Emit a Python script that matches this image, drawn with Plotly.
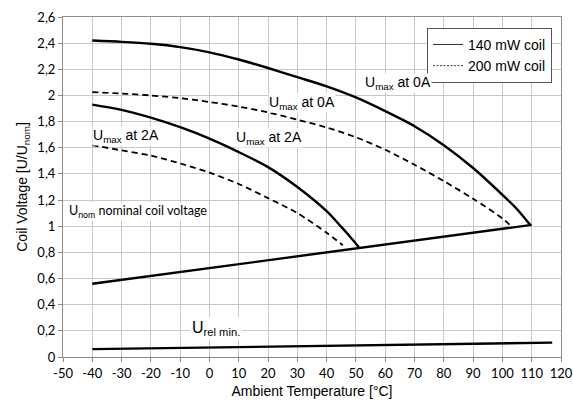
import plotly.graph_objects as go

# --- data ---
t_0a_140 = [-40, -30, -20, -10, 0, 10, 20, 30, 40, 50, 60, 70, 80, 90, 100, 105, 109.5]
u_0a_140 = [2.42, 2.41, 2.395, 2.37, 2.33, 2.275, 2.21, 2.14, 2.07, 1.985, 1.88, 1.765, 1.62, 1.445, 1.24, 1.13, 1.01]

t_0a_200 = [-40, -30, -20, -10, 0, 10, 20, 30, 40, 50, 60, 70, 80, 90, 100, 103]
u_0a_200 = [2.025, 2.015, 2.00, 1.98, 1.95, 1.915, 1.87, 1.815, 1.755, 1.68, 1.585, 1.47, 1.345, 1.21, 1.06, 1.00]

t_2a_140 = [-40, -30, -20, -10, 0, 10, 20, 30, 40, 45, 48, 51]
u_2a_140 = [1.93, 1.89, 1.83, 1.757, 1.67, 1.567, 1.452, 1.30, 1.115, 0.995, 0.92, 0.84]

t_2a_200 = [-40, -30, -20, -10, 0, 10, 20, 30, 40, 45.5]
u_2a_200 = [1.62, 1.58, 1.54, 1.48, 1.41, 1.323, 1.215, 1.10, 0.95, 0.855]

t_nom = [-40, 110]
u_nom = [0.56, 1.01]

t_rel = [-40, 117]
u_rel = [0.06, 0.11]

x_ticks = list(range(-50, 121, 10))
y_ticks = [0, 0.2, 0.4, 0.6, 0.8, 1, 1.2, 1.4, 1.6, 1.8, 2, 2.2, 2.4, 2.6]
y_tick_text = ["0", "0,2", "0,4", "0,6", "0,8", "1", "1,2", "1,4", "1,6", "1,8", "2", "2,2", "2,4", "2,6"]

legend_names = ["140 mW coil", "200 mW coil"]

SOLID_W = 2.4
DASH_W = 1.8

fig = go.Figure()

def add_curve(x, y, dashed):
    fig.add_trace(go.Scatter(
        x=x, y=y, mode="lines", showlegend=False, hoverinfo="skip",
        line=dict(color="black", width=DASH_W if dashed else SOLID_W,
                  dash="6px,4px" if dashed else "solid",
                  shape="spline", smoothing=0.8),
    ))

add_curve(t_0a_140, u_0a_140, False)
add_curve(t_0a_200, u_0a_200, True)
add_curve(t_2a_140, u_2a_140, False)
add_curve(t_2a_200, u_2a_200, True)
add_curve(t_nom, u_nom, False)
add_curve(t_rel, u_rel, False)

# legend-only entries (thin lines as in the reference)
fig.add_trace(go.Scatter(x=[None], y=[None], mode="lines", name=legend_names[0],
                         line=dict(color="#333333", width=1)))
fig.add_trace(go.Scatter(x=[None], y=[None], mode="lines", name=legend_names[1],
                         line=dict(color="#333333", width=1, dash="2px,1.5px")))

arial = "Liberation Sans, Arial, sans-serif"
label_font = dict(family=arial, size=14, color="black")

annotations = [
    dict(x=52.9, y=2.095, text="U<sub>max</sub> at 0A"),
    dict(x=20.1, y=1.94, text="U<sub>max</sub> at 0A"),
    dict(x=8.7, y=1.675, text="U<sub>max</sub> at 2A"),
    dict(x=-40.0, y=1.69, text="U<sub>max</sub> at 2A"),
]
for a in annotations:
    fig.add_annotation(xref="x", yref="y", xanchor="left", yanchor="middle", showarrow=False,
                       font=label_font, bgcolor="white", borderpad=0, **a)

fig.add_annotation(xref="x", yref="y", x=-48.3, y=1.11, xanchor="left", yanchor="middle",
                   showarrow=False, text="U<sub>nom</sub> nominal coil voltage",
                   bgcolor="white", borderpad=0,
                   font=dict(family="Lato, sans-serif", size=12.5, color="black"))
fig.add_annotation(xref="x", yref="y", x=-6.8, y=0.215, xanchor="left", yanchor="middle",
                   showarrow=False, text="U<sub>rel min.</sub>",
                   bgcolor="white", borderpad=1,
                   font=dict(family=arial, size=16, color="black"))

grid = "#c8c8c8"
axis_c = "#8c8c8c"

fig.update_layout(
    width=573, height=405, autosize=False,
    margin=dict(l=63, r=12, t=17, b=48, autoexpand=False),
    paper_bgcolor="white", plot_bgcolor="white",
    showlegend=True,
    legend=dict(x=0.731, y=0.968, xanchor="left", yanchor="top",
                bgcolor="white", bordercolor="#555555", borderwidth=1,
                font=dict(family=arial, size=14, color="black"),
                tracegroupgap=0, itemwidth=30),
    xaxis=dict(range=[-50, 120], tickvals=x_ticks, ticktext=[str(v) for v in x_ticks],
               automargin=False,
               showgrid=True, gridcolor=grid, gridwidth=1,
               showline=True, linecolor=axis_c, mirror=True, linewidth=1,
               ticks="outside", ticklen=4, tickcolor=axis_c,
               zeroline=False,
               tickfont=dict(family="Lato, sans-serif", size=13, color="black"),
               title=dict(text="Ambient Temperature [°C]", standoff=6,
                          font=dict(family=arial, size=14, color="black"))),
    yaxis=dict(range=[0, 2.6], tickvals=y_ticks, ticktext=y_tick_text,
               automargin=False,
               showgrid=True, gridcolor=grid, gridwidth=1,
               showline=True, linecolor=axis_c, mirror=True, linewidth=1,
               ticks="outside", ticklen=4, tickcolor=axis_c,
               zeroline=False,
               tickfont=dict(family="Lato, sans-serif", size=13, color="black"),
               title=dict(text="Coil Voltage [U/U<sub>nom</sub>]", standoff=6,
                          font=dict(family=arial, size=14, color="black"))),
)

page_fix = ("document.documentElement.style.margin='0px';"
            "document.body.style.margin='0px';"
            "document.documentElement.style.overflow='hidden';"
            "document.body.style.overflow='hidden';")

fig.write_html("out.html", config={"displayModeBar": False}, post_script=page_fix)
